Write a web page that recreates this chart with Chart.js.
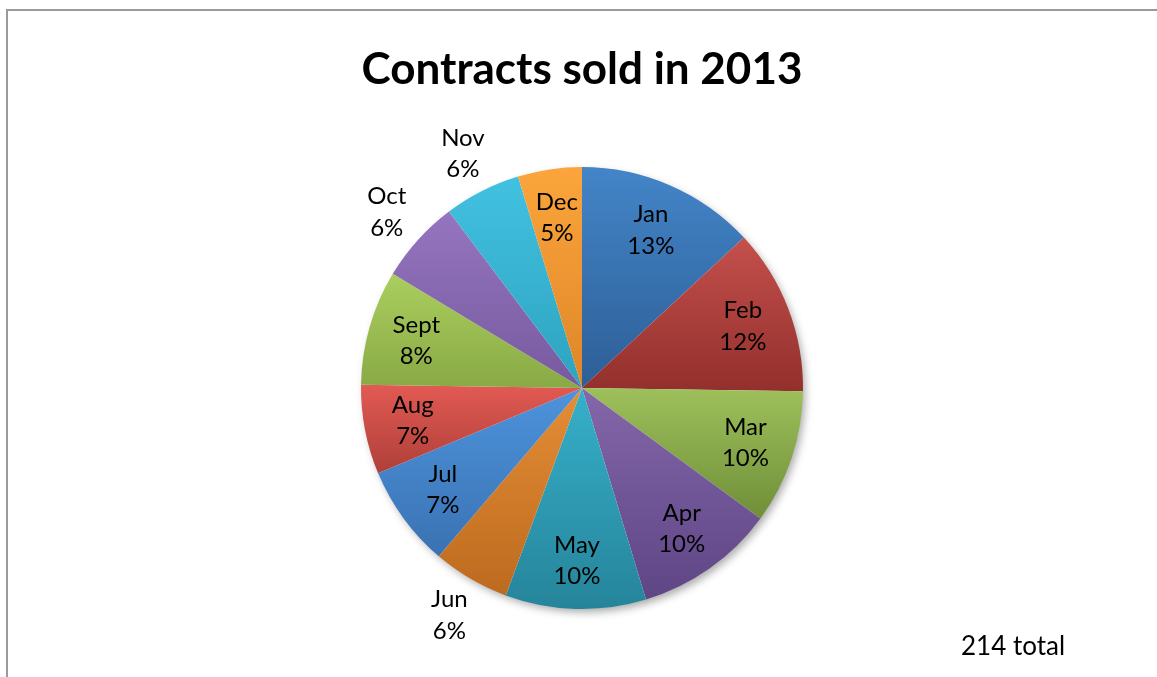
<!DOCTYPE html>
<html>
<head>
<meta charset="utf-8">
<title>Contracts sold in 2013</title>
<script src="https://cdn.jsdelivr.net/npm/chart.js@4.4.1/dist/chart.umd.min.js"></script>
<style>
  body { margin: 0; background: #fff; }
  #wrap { width: 1157px; height: 677px; position: relative; }
</style>
</head>
<body>
<div id="wrap"><canvas id="myChart"></canvas></div>
<script>
const months = ["Jan", "Feb", "Mar", "Apr", "May", "Jun", "Jul", "Aug", "Sept", "Oct", "Nov", "Dec"];
const contracts = [28, 26, 21, 22, 22, 12, 16, 14, 18, 13, 12, 10];
const outsideLabels = ["Jun", "Oct", "Nov"];

// top / bottom shade of each slice
const lightColors = ["#4385c8", "#c4504c", "#9ec05b", "#8467aa", "#37b0ca", "#e58e36",
                     "#4d93dc", "#e25a53", "#abce5f", "#9575bf", "#42c1e1", "#fba53c"];
const darkColors  = ["#2d5e96", "#922f2c", "#6f8e38", "#5e4584", "#25849a", "#bc6a1f",
                     "#3a72b2", "#ae3f39", "#88a944", "#765a9f", "#2da3bf", "#de8628"];

const total = contracts.reduce((a, b) => a + b, 0);
const FONT = "Lato, 'Open Sans', sans-serif";

// vertical gradient spanning each slice's own bounding box
function sliceFill(ctx) {
  const chart = ctx.chart;
  const area = chart.chartArea;
  const i = ctx.dataIndex;
  if (!area || i === undefined) return lightColors[i || 0];
  const cx = (area.left + area.right) / 2;
  const cy = (area.top + area.bottom) / 2;
  const r = Math.min(area.right - area.left, area.bottom - area.top) / 2;
  let before = 0;
  for (let k = 0; k < i; k++) before += contracts[k];
  const a0 = -Math.PI / 2 + before / total * Math.PI * 2;
  const a1 = a0 + contracts[i] / total * Math.PI * 2;
  const ys = [cy, cy + Math.sin(a0) * r, cy + Math.sin(a1) * r];
  const within = (a) => {
    for (let t = a - 4 * Math.PI; t <= a + 4 * Math.PI; t += 2 * Math.PI) {
      if (t >= a0 && t <= a1) return true;
    }
    return false;
  };
  if (within(Math.PI / 2)) ys.push(cy + r);
  if (within(-Math.PI / 2)) ys.push(cy - r);
  const top = Math.min(...ys), bottom = Math.max(...ys);
  const g = chart.ctx.createLinearGradient(0, top, 0, bottom + 1);
  g.addColorStop(0, lightColors[i]);
  g.addColorStop(1, darkColors[i]);
  return g;
}

const framePlugin = {
  id: "frame",
  beforeDraw(chart) {
    const c = chart.ctx;
    c.save();
    c.fillStyle = "#fff";
    c.fillRect(0, 0, chart.width, chart.height);
    c.fillStyle = "#9a9a9a";
    c.fillRect(6, 9, chart.width - 6, 2);
    c.fillRect(6, 9, 2, chart.height - 9);
    c.fillStyle = "#000";
    c.textAlign = "center";
    c.textBaseline = "alphabetic";
    c.font = "bold 44px " + FONT;
    c.fillText("Contracts sold in 2013", 582, 84);
    c.font = "26px " + FONT;
    c.textAlign = "left";
    c.fillText(total + " total", 961, 655);
    c.restore();
  },
  beforeDatasetsDraw(chart) {
    // soft drop shadow under the whole pie
    const arc = chart.getDatasetMeta(0).data[0];
    if (!arc) return;
    const c = chart.ctx;
    c.save();
    c.shadowColor = "rgba(0,0,0,0.35)";
    c.shadowBlur = 9;
    c.shadowOffsetX = 3;
    c.shadowOffsetY = 4;
    c.fillStyle = "#fff";
    c.beginPath();
    c.arc(arc.x, arc.y, arc.outerRadius - 1, 0, Math.PI * 2);
    c.fill();
    c.restore();
  },
  afterDatasetsDraw(chart) {
    const c = chart.ctx;
    c.save();
    c.fillStyle = "#000";
    c.font = "24px " + FONT;
    c.textAlign = "center";
    c.textBaseline = "middle";
    chart.getDatasetMeta(0).data.forEach((arc, i) => {
      const p = arc.getProps(["x", "y", "startAngle", "endAngle", "outerRadius"], true);
      const mid = (p.startAngle + p.endAngle) / 2;
      const r = outsideLabels.includes(months[i]) ? p.outerRadius * 1.19 : p.outerRadius * 0.78;
      const lx = p.x + Math.cos(mid) * r;
      const ly = p.y + Math.sin(mid) * r;
      const pct = Math.round(contracts[i] / total * 100) + "%";
      c.fillText(months[i], lx, ly - 15.5);
      c.fillText(pct, lx, ly + 16);
    });
    c.restore();
  }
};

const myChart = new Chart(document.getElementById("myChart"), {
  type: "pie",
  data: {
    labels: months,
    datasets: [{
      label: "Contracts",
      data: contracts,
      backgroundColor: sliceFill,
      borderWidth: 0
    }]
  },
  options: {
    responsive: true,
    maintainAspectRatio: false,
    animation: false,
    layout: { padding: { left: 361, right: 354, top: 167, bottom: 68 } },
    plugins: {
      legend: { display: false },
      tooltip: { enabled: false },
      title: { display: false }
    }
  },
  plugins: [framePlugin]
});
</script>
</body>
</html>
